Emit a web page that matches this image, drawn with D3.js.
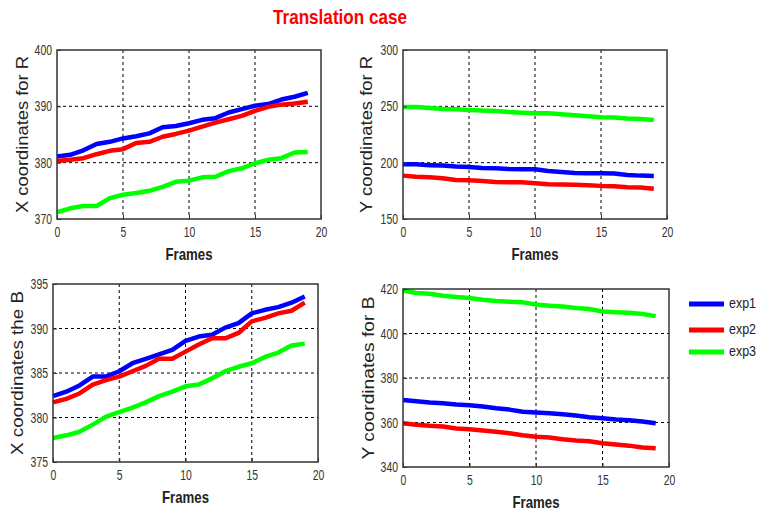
<!DOCTYPE html>
<html><head><meta charset="utf-8">
<script src="https://cdn.jsdelivr.net/npm/d3@7"></script>
<style>
html,body{margin:0;padding:0;background:#fff;}
svg{display:block;}
text{font-family:"Liberation Sans",Arial,sans-serif;}
</style></head>
<body>
<svg id="chart" width="761" height="513"></svg>
<script>
const frames = d3.range(0, 20);
const seriesNames = ["exp1", "exp2", "exp3"];
const seriesColors = ["#0000ff", "#ff0000", "#00ff00"];

// Panel 1: X coordinates for R
const xR_exp1 = [381.1,381.4,382.2,383.3,383.7,384.3,384.7,385.2,386.3,386.5,387.0,387.6,387.9,388.9,389.5,390.1,390.4,391.2,391.7,392.4];
const xR_exp2 = [380.3,380.5,380.8,381.5,382.1,382.4,383.5,383.7,384.6,385.1,385.7,386.4,387.1,387.7,388.3,389.2,389.9,390.3,390.5,390.8];
const xR_exp3 = [371.2,371.9,372.3,372.3,373.7,374.3,374.6,375.0,375.7,376.6,376.8,377.4,377.5,378.5,379.0,379.9,380.5,380.8,381.8,381.9];
// Panel 2: Y coordinates for R
const yR_exp1 = [198.5,198.5,197.6,197.4,196.5,196.2,195.3,195.0,194.4,194.1,194.1,192.6,191.8,190.9,190.6,190.6,190.3,189.1,188.5,188.2];
const yR_exp2 = [188.5,187.4,187.1,186.2,184.7,184.4,183.8,182.9,182.6,182.6,181.8,180.9,180.6,180.3,180.0,179.4,179.1,178.2,177.9,176.8];
const yR_exp3 = [249.4,249.4,248.5,247.6,247.4,246.8,246.2,245.9,245.0,244.4,243.8,243.8,242.9,242.1,241.2,240.3,240.0,239.1,238.8,237.9];
// Panel 3: X coordinates the B
const xB_exp1 = [382.4,382.9,383.6,384.6,384.6,385.2,386.1,386.6,387.1,387.6,388.6,389.1,389.3,390.1,390.6,391.7,392.1,392.4,392.9,393.6];
const xB_exp2 = [381.7,382.1,382.7,383.7,384.2,384.6,385.2,385.8,386.6,386.6,387.4,388.2,388.9,388.9,389.5,390.8,391.2,391.7,392.0,392.9];
const xB_exp3 = [377.7,378.0,378.4,379.2,380.1,380.6,381.1,381.7,382.4,382.9,383.5,383.7,384.4,385.2,385.7,386.1,386.8,387.3,388.1,388.3];
// Panel 4: Y coordinates for B
const yB_exp1 = [370.1,369.6,369.0,368.7,368.1,367.8,367.2,366.4,365.8,364.8,364.5,364.2,363.7,363.1,362.4,361.9,361.3,361.0,360.4,359.7];
const yB_exp2 = [359.7,359.0,358.5,358.2,357.3,357.0,356.4,355.8,355.2,354.3,353.6,353.3,352.5,351.9,351.6,350.7,350.1,349.6,348.8,348.4];
const yB_exp3 = [419.3,418.2,417.9,417.0,416.4,416.0,415.2,414.6,414.3,414.0,413.0,412.5,412.1,411.5,411.0,409.9,409.6,409.3,408.8,407.8];

const xTicks = [0, 5, 10, 15, 20];
const yTicksXR = [370, 380, 390, 400];
const yTicksYR = [150, 200, 250, 300];
const yTicksXB = [375, 380, 385, 390, 395];
const yTicksYB = [340, 360, 380, 400, 420];

const titleText = "Translation case";
const xLabel = "Frames";

const panels = [
  {label:"X coordinates for R", ticks:yTicksXR, data:[xR_exp1,xR_exp2,xR_exp3], box:[57,50,321,219], labX:24, labLen:157},
  {label:"Y coordinates for R", ticks:yTicksYR, data:[yR_exp1,yR_exp2,yR_exp3], box:[403,50,667,219], labX:368, labLen:157},
  {label:"X coordinates the B", ticks:yTicksXB, data:[xB_exp1,xB_exp2,xB_exp3], box:[53,284,318,462], labX:19, labLen:164},
  {label:"Y coordinates for B", ticks:yTicksYB, data:[yB_exp1,yB_exp2,yB_exp3], box:[403,289,669,467], labX:370, labLen:163}
];

const svg = d3.select("#chart");
const squeeze = (sel, len) => sel.attr("textLength", len).attr("lengthAdjust", "spacingAndGlyphs");

squeeze(svg.append("text").attr("x", 340).attr("y", 24).attr("text-anchor","middle")
  .attr("fill","#ff0000").attr("font-size", 21).attr("font-weight","bold").text(titleText), 134);

panels.forEach(p => {
  const [x0,y0,x1,y1] = p.box;
  const x = d3.scaleLinear().domain([0,20]).range([x0,x1]);
  const y = d3.scaleLinear().domain([p.ticks[0], p.ticks[p.ticks.length-1]]).range([y1,y0]);
  const g = svg.append("g");

  // grid
  g.selectAll(".gx").data(xTicks.slice(1,-1)).join("line")
    .attr("x1",d=>x(d)).attr("x2",d=>x(d)).attr("y1",y0).attr("y2",y1)
    .attr("stroke","#000").attr("stroke-width",1).attr("stroke-dasharray","3,3");
  g.selectAll(".gy").data(p.ticks.slice(1,-1)).join("line")
    .attr("y1",d=>y(d)).attr("y2",d=>y(d)).attr("x1",x0).attr("x2",x1)
    .attr("stroke","#000").attr("stroke-width",1).attr("stroke-dasharray","3,3");

  // lines
  const line = d3.line().x((d,i)=>x(frames[i])).y(d=>y(d));
  p.data.forEach((vals,k)=>{
    g.append("path").datum(vals).attr("d",line).attr("fill","none")
      .attr("stroke",seriesColors[k]).attr("stroke-width",4.5).attr("stroke-linejoin","round");
  });

  // axes
  const ax = g.append("g").attr("transform",`translate(0,${y1})`)
    .call(d3.axisBottom(x).tickValues(xTicks).tickSize(-4).tickPadding(8));
  const ay = g.append("g").attr("transform",`translate(${x0},0)`)
    .call(d3.axisLeft(y).tickValues(p.ticks).tickSize(-4).tickPadding(5));
  [ax,ay].forEach(a=>{
    a.select(".domain").remove();
    a.selectAll("line").attr("stroke","#333");
    a.selectAll("text").attr("font-size",14.5).attr("fill","#333")
      .each(function(){ const t=d3.select(this); squeeze(t, t.text().length*5.8); });
  });
  g.append("rect").attr("x",x0).attr("y",y0).attr("width",x1-x0).attr("height",y1-y0)
    .attr("fill","none").attr("stroke","#333").attr("stroke-width",1.5);

  squeeze(g.append("text").attr("x",(x0+x1)/2).attr("y",y1+41).attr("text-anchor","middle")
    .attr("font-size",17).attr("font-weight","bold").attr("fill","#222").text(xLabel), 47);
  squeeze(g.append("text").attr("transform",`translate(${p.labX},${(y0+y1)/2}) rotate(-90)`)
    .attr("text-anchor","middle").attr("dominant-baseline","middle")
    .attr("font-size",17).attr("fill","#222").text(p.label), p.labLen);
});

// legend
const leg = svg.append("g");
seriesNames.forEach((n,i)=>{
  const yy = [304,330,352][i];
  leg.append("line").attr("x1",689).attr("x2",724).attr("y1",yy).attr("y2",yy)
    .attr("stroke",seriesColors[i]).attr("stroke-width",5);
  squeeze(leg.append("text").attr("x",729).attr("y",yy).attr("dominant-baseline","middle")
    .attr("font-size",15).attr("fill","#222").text(n), 27);
});
</script>
</body></html>
